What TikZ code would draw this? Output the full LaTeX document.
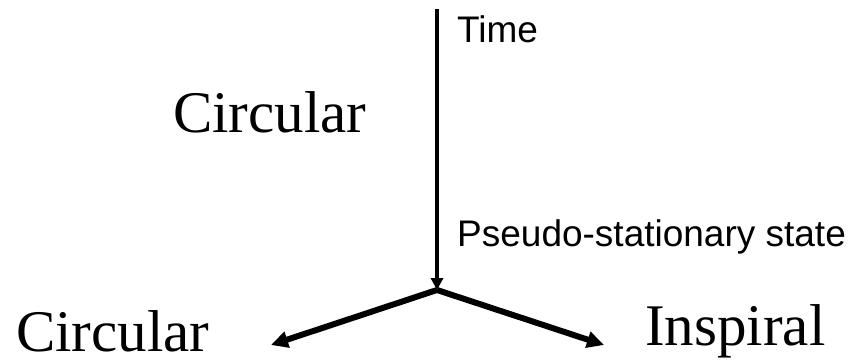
\documentclass[tikz,border=0pt]{standalone}
\usepackage{fontspec}
\setmainfont{Liberation Serif}
\newfontfamily\labelsans{Liberation Sans}
\usetikzlibrary{arrows.meta}
\tikzset{stagelbl/.style={inner sep=0pt,anchor=base west,font=\fontsize{59}{66}\selectfont},
  axislbl/.style={inner sep=0pt,anchor=base west,font=\labelsans\fontsize{37}{42}\selectfont}}

\begin{document}
\begin{tikzpicture}[x=1pt,y=-1pt]
\useasboundingbox (0,0) rectangle (853,363);
\coordinate (top) at (437,9);\coordinate (fork) at (437,290);
\coordinate (leftend) at (271,345);\coordinate (rightend) at (604,345);
\node[axislbl] (time) at (457,43) {Time};
\node[stagelbl] (circtop) at (173,133) {Circular};
\node[axislbl] (pseudo) at (457,247) {Pseudo-stationary state};
\node[stagelbl] (circleft) at (16,351) {Circular};
\node[stagelbl] (inspiral) at (645,345) {Inspiral};
\draw[-{Triangle[length=12pt,width=12pt]},line width=4pt] (top)--(fork);
\draw[-{Triangle[length=17pt,width=16pt]},line width=6pt,line join=round] (fork)--(leftend);
\draw[-{Triangle[length=17pt,width=16pt]},line width=6pt,line join=round] (fork)--(rightend);
\end{tikzpicture}
\end{document}
